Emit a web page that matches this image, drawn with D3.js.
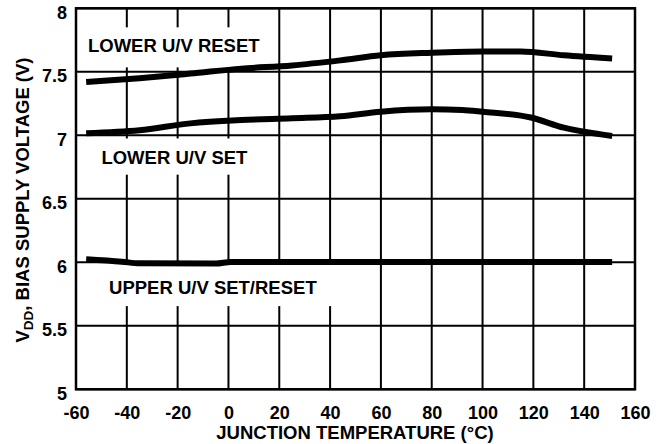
<!DOCTYPE html>
<html>
<head>
<meta charset="utf-8">
<script src="https://cdn.jsdelivr.net/npm/d3@7"></script>
<style>
  body { margin: 0; background: #fff; }
  svg text { font-family: "Liberation Sans", Arial, sans-serif; font-weight: bold; fill: #000; }
</style>
</head>
<body>
<svg id="chart" width="659" height="444"></svg>
<script>
"use strict";

// readings (temperature in C, voltage in V)
var resetTemps = [-56, -35, -15, 5, 25, 44, 60, 80, 100, 115, 132, 151];
var resetVolts = [7.42, 7.45, 7.486, 7.525, 7.55, 7.59, 7.63, 7.65, 7.66, 7.66, 7.63, 7.605];

var setTemps = [-56, -35, -15, 5, 25, 44, 60, 80, 92, 100, 119, 132, 151];
var setVolts = [7.016, 7.04, 7.094, 7.12, 7.134, 7.15, 7.186, 7.205, 7.2, 7.186, 7.14, 7.06, 6.995];

var upperTemps = [-56, -42, -35, -5, 1, 40, 100, 151];
var upperVolts = [6.024, 6.005, 5.992, 5.99, 6.003, 6.003, 6.003, 6.003];

var xTicks = [-60, -40, -20, 0, 20, 40, 60, 80, 100, 120, 140, 160];
var xTickLabels = ["-60", "-40", "-20", "0", "20", "40", "60", "80", "100", "120", "140", "160"];
var yTicks = [5, 5.5, 6, 6.5, 7, 7.5, 8];
var yTickLabels = ["5", "5.5", "6", "6.5", "7", "7.5", "8"];

var curveNames = ["LOWER U/V RESET", "LOWER U/V SET", "UPPER U/V SET/RESET"];

var svg = d3.select("#chart");
var plotLeft = 76, plotRight = 635, plotTop = 8.3, plotBottom = 389.3;

var x = d3.scaleLinear().domain([-60, 160]).range([plotLeft, plotRight]);
var y = d3.scaleLinear().domain([5, 8]).range([plotBottom, plotTop]);

// grid
var grid = svg.append("g").attr("stroke", "#000").attr("stroke-width", 2);
grid.selectAll("line.v")
  .data(xTicks)
  .enter().append("line")
    .attr("x1", function (d) { return x(d); })
    .attr("x2", function (d) { return x(d); })
    .attr("y1", plotTop).attr("y2", plotBottom);
grid.selectAll("line.h")
  .data(yTicks)
  .enter().append("line")
    .attr("x1", plotLeft).attr("x2", plotRight)
    .attr("y1", function (d) { return y(d); })
    .attr("y2", function (d) { return y(d); });

// white boxes behind the curve names (data space corners)
var boxes = [
  { x0: -59.3, x1: 16, y0: 7.85, y1: 7.535, tx: -55.3, ty: 7.71 },
  { x0: -59.3, x1: 16, y0: 6.975, y1: 6.69, tx: -50, ty: 6.83 },
  { x0: -59.3, x1: 56, y0: 5.985, y1: 5.655, tx: -47, ty: 5.80 }
];
svg.append("g").selectAll("rect")
  .data(boxes)
  .enter().append("rect")
    .attr("x", function (d) { return x(d.x0); })
    .attr("width", function (d) { return x(d.x1) - x(d.x0); })
    .attr("y", function (d) { return y(d.y0); })
    .attr("height", function (d) { return y(d.y1) - y(d.y0); })
    .attr("fill", "#fff");

// curves
var line = d3.line()
  .x(function (d) { return x(d[0]); })
  .y(function (d) { return y(d[1]); })
  .curve(d3.curveMonotoneX);

var series = [
  d3.zip(resetTemps, resetVolts),
  d3.zip(setTemps, setVolts),
  d3.zip(upperTemps, upperVolts)
];
svg.append("g").selectAll("path")
  .data(series)
  .enter().append("path")
    .attr("d", line)
    .attr("fill", "none")
    .attr("stroke", "#000")
    .attr("stroke-width", 6)
    .attr("stroke-linecap", "butt");

svg.append("g").selectAll("text")
  .data(boxes)
  .enter().append("text")
    .attr("x", function (d) { return x(d.tx); })
    .attr("y", function (d) { return y(d.ty); })
    .attr("dy", "0.36em")
    .style("font-size", "18.5px")
    .text(function (d, i) { return curveNames[i]; });

// frame
svg.append("rect")
  .attr("x", plotLeft).attr("y", plotTop)
  .attr("width", plotRight - plotLeft).attr("height", plotBottom - plotTop)
  .attr("fill", "none").attr("stroke", "#000").attr("stroke-width", 2.5);

// axes
var xAxis = svg.append("g")
  .attr("transform", "translate(0," + plotBottom + ")")
  .call(d3.axisBottom(x).tickValues(xTicks).tickSize(0).tickPadding(17)
    .tickFormat(function (d, i) { return xTickLabels[i]; }));
var yAxis = svg.append("g")
  .attr("transform", "translate(" + plotLeft + ",0)")
  .call(d3.axisLeft(y).tickValues(yTicks).tickSize(0).tickPadding(9)
    .tickFormat(function (d, i) { return yTickLabels[i]; }));
[xAxis, yAxis].forEach(function (a) {
  a.select(".domain").remove();
  a.selectAll("text").style("font-size", "18px")
    .attr("font-family", null).style("font-family", "Liberation Sans, Arial, sans-serif");
});
yAxis.selectAll("text").attr("dy", "0.55em");

svg.append("text")
  .attr("x", 355).attr("y", 439)
  .attr("text-anchor", "middle")
  .style("font-size", "18.5px")
  .text("JUNCTION TEMPERATURE (°C)");

var yTitle = svg.append("text")
  .attr("transform", "translate(29,200) rotate(-90)")
  .attr("text-anchor", "middle")
  .style("font-size", "18.5px");
yTitle.append("tspan").text("V");
yTitle.append("tspan").attr("dy", 4).style("font-size", "13.5px").text("DD");
yTitle.append("tspan").attr("dy", -4).text(", BIAS SUPPLY VOLTAGE (V)");
</script>
</body>
</html>
